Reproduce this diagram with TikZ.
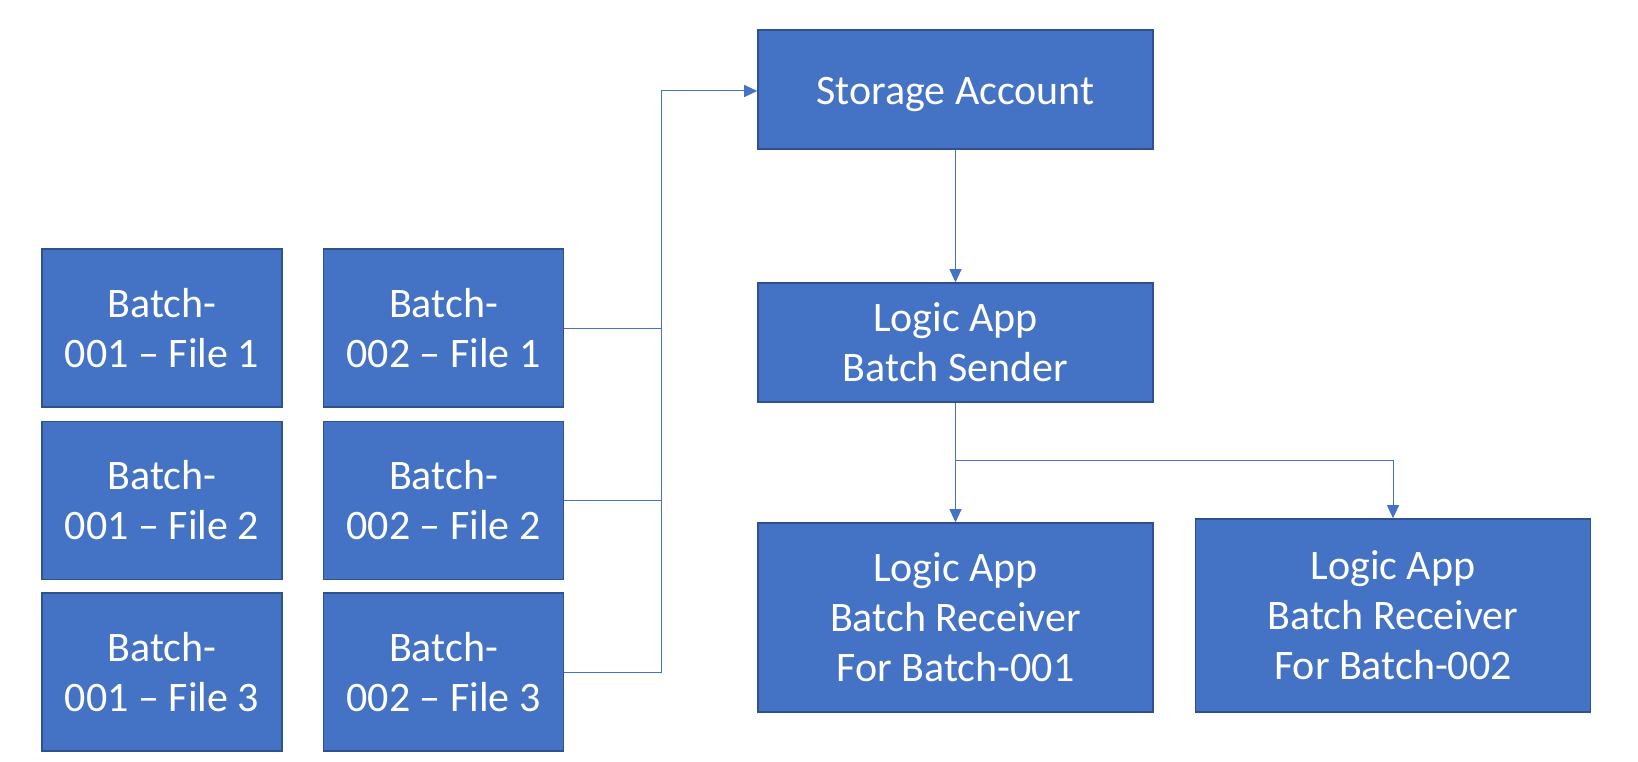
\documentclass[tikz,border=0pt]{standalone}
\usepackage{fontspec}
\setmainfont{Carlito}
\usetikzlibrary{arrows.meta}
\definecolor{boxfill}{HTML}{4472C4}
\definecolor{boxedge}{HTML}{2F528F}
\definecolor{linecol}{HTML}{4472C4}
\begin{document}
\begin{tikzpicture}[x=1pt,y=-1pt,
  box/.style={rectangle, fill=boxfill, draw=boxedge, line width=1.6pt, inner sep=0pt,
    text=white, align=center, font=\fontsize{42}{50}\selectfont},
  filebox/.style={box, minimum width=240pt, minimum height=158pt},
  bigbox/.style={box, minimum width=395pt},
  link/.style={draw=linecol, line width=1pt},
  flow/.style={link, -{Triangle[length=13pt,width=12pt]}}]
\useasboundingbox (0,0) rectangle (1638,762);
% left columns
\node[filebox] (b11) at (162,328) {Batch-\\001 -- File 1};
\node[filebox] (b12) at (162,500.5) {Batch-\\001 -- File 2};
\node[filebox] (b13) at (162,672) {Batch-\\001 -- File 3};
\node[filebox] (b21) at (443.5,328) {Batch-\\002 -- File 1};
\node[filebox] (b22) at (443.5,500.5) {Batch-\\002 -- File 2};
\node[filebox] (b23) at (443.5,672) {Batch-\\002 -- File 3};
% right side
\node[bigbox, minimum height=119pt] (sa) at (955.5,89.5) {\raisebox{-15pt}[0pt][0pt]{Storage Account}};
\node[bigbox, minimum height=119pt] (ls) at (955.5,342.5) {Logic App\\Batch Sender};
\node[bigbox, minimum height=189pt] (r1) at (955.5,617.5) {Logic App\\Batch Receiver\\For Batch-001};
\node[bigbox, minimum height=193pt] (r2) at (1393,615.5) {Logic App\\Batch Receiver\\For Batch-002};
% connectors
\coordinate (sp) at (661,91);
\draw[link] (b21.east) -- (b21.east -| sp);
\draw[link] (b22.east) -- (b22.east -| sp);
\draw[flow] (b23.east) -| (sp) -- (sp -| sa.west);
\draw[flow] (sa.south) -- (ls.north);
\coordinate (br) at (955.5,460);
\draw[flow] (ls.south) -- (r1.north);
\draw[flow] (br) -| (r2.north);
\end{tikzpicture}
\end{document}
